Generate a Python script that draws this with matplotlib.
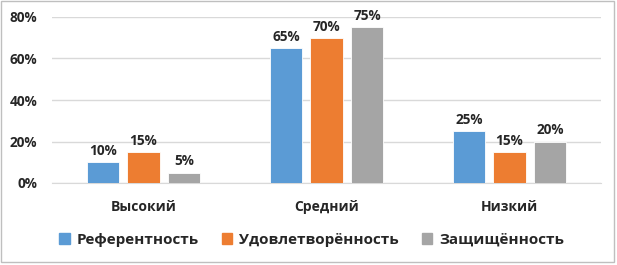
import matplotlib
matplotlib.use("Agg")
import matplotlib.pyplot as plt
from matplotlib.patches import Rectangle
import numpy as np

categories = ["Высокий", "Средний", "Низкий"]
series_names = ["Референтность", "Удовлетворённость", "Защищённость"]
referent = [10, 65, 25]
satisfied = [15, 70, 15]
protected = [5, 75, 20]
yticks = [0, 20, 40, 60, 80]
colors = ["#5B9BD5", "#ED7D31", "#A5A5A5"]

plt.rcParams['font.family'] = ['Open Sans', 'DejaVu Sans']
txt = "#262626"

fig = plt.figure(figsize=(6.17, 2.65), dpi=100)
fig.patch.set_facecolor("white")
ax = fig.add_axes([52/617, 1-183/265, 549/617, 166/265])

x = np.arange(len(categories))
w = 0.175
off = 0.222
for i, (vals, name, c) in enumerate(zip([referent, satisfied, protected], series_names, colors)):
    bars = ax.bar(x + (i-1)*off, vals, width=w, color=c, label=name, zorder=3,
                  edgecolor="white", linewidth=0.6)
    for b, v in zip(bars, vals):
        ax.annotate(f"{v}%", (b.get_x()+b.get_width()/2, v), xytext=(0, 3),
                    textcoords="offset points", ha="center", va="bottom",
                    fontsize=9.8, fontweight="bold", color=txt)

ax.set_xlim(-0.5, 2.5)
ax.set_ylim(0, 80)
ax.set_yticks(yticks)
ax.set_yticklabels([f"{t}%" for t in yticks], fontsize=9.8, fontweight="bold", color=txt)
ax.set_xticks(x)
ax.set_xticklabels(categories, fontsize=10, fontweight="bold", color=txt)
ax.tick_params(axis="both", length=0)
ax.tick_params(axis="x", pad=12.5)
ax.tick_params(axis="y", pad=10.5)
ax.grid(axis="y", color="#D9D9D9", linewidth=1, zorder=0)
for s in ["top", "right", "left"]:
    ax.spines[s].set_visible(False)
ax.spines["bottom"].set_color("#D9D9D9")

handles = [Rectangle((0, 0), 1, 1, color=c) for c in colors]
fig.legend(handles, series_names, loc="center", bbox_to_anchor=(0.505, 1-240/265), ncol=3,
           frameon=False, prop={"size": 11, "weight": "bold"}, handlelength=0.7,
           handleheight=0.7, handletextpad=0.45, columnspacing=1.5, labelcolor=txt)

fig.patches.append(Rectangle((0.002, 0.012), 0.993, 0.984, transform=fig.transFigure,
                             fill=False, edgecolor="#BFBFBF", linewidth=1))
fig.savefig("out.png", dpi=100)
